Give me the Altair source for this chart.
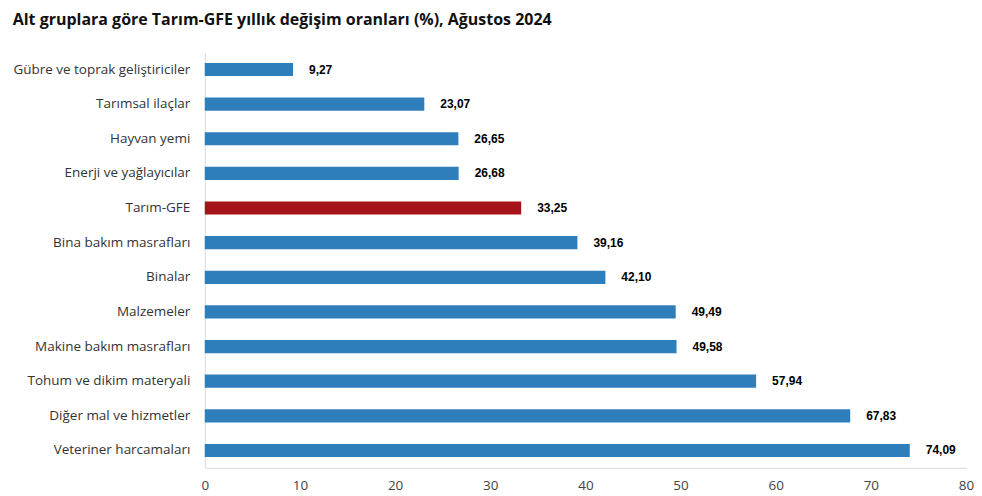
import altair as alt
import pandas as pd

categories = [
    "Gübre ve toprak geliştiriciler",
    "Tarımsal ilaçlar",
    "Hayvan yemi",
    "Enerji  ve yağlayıcılar",
    "Tarım-GFE",
    "Bina bakım masrafları",
    "Binalar",
    "Malzemeler",
    "Makine bakım masrafları",
    "Tohum ve dikim materyali",
    "Diğer mal ve hizmetler",
    "Veteriner harcamaları",
]
values = [9.27, 23.07, 26.65, 26.68, 33.25, 39.16, 42.10, 49.49, 49.58, 57.94, 67.83, 74.09]
highlight = [c == "Tarım-GFE" for c in categories]

df = pd.DataFrame({
    "kategori": categories,
    "deger": values,
    "vurgu": ["GFE" if h else "Alt" for h in highlight],
    "etiket": [f"{v:.2f}".replace(".", ",") for v in values],
})

y_enc = alt.Y("kategori:N", sort=categories, title=None,
              scale=alt.Scale(paddingInner=0.62, paddingOuter=0.31),
              axis=alt.Axis(labelFont="Open Sans", labelFontSize=13.5, labelColor="#333333",
                            labelPadding=15, ticks=False, domainColor="#d9d9d9",
                            labelLimit=300))
x_enc = alt.X("deger:Q", title=None,
              scale=alt.Scale(domain=[0, 80]),
              axis=alt.Axis(values=list(range(0, 90, 10)), grid=False, ticks=False,
                            labelFlush=False,
                            labelFont="Open Sans", labelFontSize=13.5, labelColor="#444444",
                            labelPadding=11, domainColor="#d9d9d9"))

bars = alt.Chart(df).mark_bar().encode(
    x=x_enc,
    y=y_enc,
    color=alt.Color("vurgu:N", scale=alt.Scale(domain=["Alt", "GFE"], range=["#2f7ebc", "#a51318"]),
                    legend=None),
)

labels = alt.Chart(df).mark_text(align="left", baseline="middle", dx=16,
                                 font="Liberation Sans", fontSize=12, fontWeight="bold",
                                 color="#000000").encode(
    x="deger:Q",
    y=alt.Y("kategori:N", sort=categories),
    text="etiket:N",
)

chart = (bars + labels).properties(
    width=762,
    height=416,
    padding={"left": 4, "top": 4, "right": 0, "bottom": 0},
    title=alt.TitleParams(
        "Alt gruplara göre Tarım-GFE yıllık değişim oranları (%), Ağustos 2024",
        anchor="start", frame="bounds", font="Open Sans", fontSize=16, fontWeight="bold",
        color="#111111", offset=24,
    ),
).configure_view(strokeWidth=0, stroke="transparent")

chart.save("out.html", embed_options={"renderer": "svg", "actions": False})
